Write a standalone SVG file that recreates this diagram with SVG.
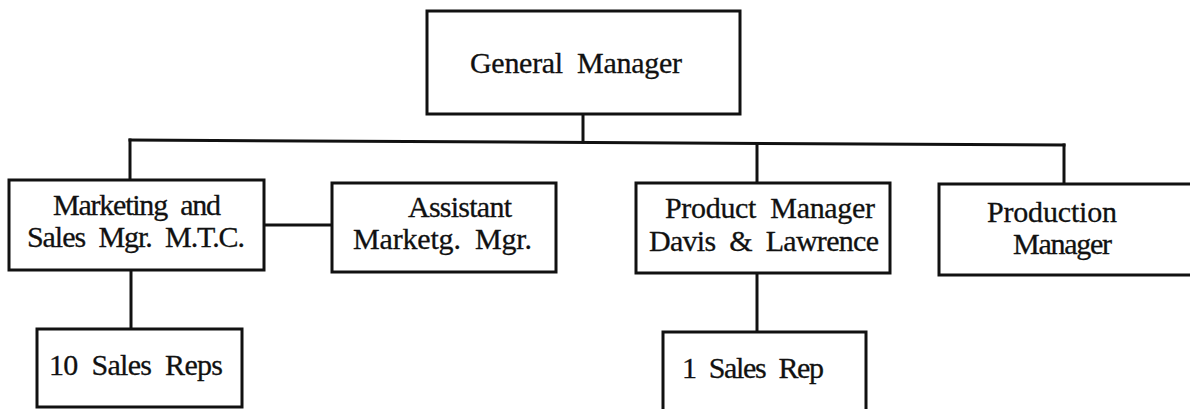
<svg xmlns="http://www.w3.org/2000/svg" width="1190" height="409" viewBox="0 0 1190 409">
  <style>
    .box { fill: #ffffff; stroke: #111111; stroke-width: 3; }
    .conn { fill: none; stroke: #111111; stroke-width: 3; stroke-linecap: square; }
    .lbl { font-family: "Liberation Serif", "Times New Roman", serif; font-size: 30px; fill: #111111; stroke: #111111; stroke-width: 0.3; word-spacing: 7px; }
  </style>
  <rect x="0" y="0" width="1190" height="409" fill="#ffffff"/>
  <g id="connectors">
    <line class="conn" x1="583" y1="114" x2="583" y2="142"/>
    <line class="conn" x1="130" y1="140" x2="1064" y2="145"/>
    <line class="conn" x1="130" y1="140" x2="130" y2="180"/>
    <line class="conn" x1="757" y1="144" x2="757" y2="183"/>
    <line class="conn" x1="1064" y1="145" x2="1064" y2="184"/>
    <line class="conn" x1="264" y1="225" x2="332" y2="225"/>
    <line class="conn" x1="131" y1="270" x2="131" y2="329"/>
    <line class="conn" x1="757" y1="273" x2="757" y2="332"/>
  </g>
  <g id="general-manager">
    <rect class="box" x="427" y="11" width="313" height="103"/>
    <text class="lbl" x="470" y="73" textLength="212" lengthAdjust="spacing">General Manager</text>
  </g>
  <g id="marketing-sales">
    <rect class="box" x="9" y="180" width="255" height="90"/>
    <text class="lbl" x="53" y="215" textLength="168" lengthAdjust="spacing">Marketing and</text>
    <text class="lbl" x="27" y="247" textLength="218" lengthAdjust="spacing">Sales Mgr. M.T.C.</text>
  </g>
  <g id="assistant-marketing">
    <rect class="box" x="332" y="183" width="224" height="89"/>
    <text class="lbl" x="408" y="217" textLength="104" lengthAdjust="spacing">Assistant</text>
    <text class="lbl" x="353" y="249" textLength="179" lengthAdjust="spacing">Marketg. Mgr.</text>
  </g>
  <g id="product-manager">
    <rect class="box" x="636" y="183" width="254" height="90"/>
    <text class="lbl" x="665" y="218" textLength="210" lengthAdjust="spacing">Product Manager</text>
    <text class="lbl" x="649" y="251" textLength="230" lengthAdjust="spacing">Davis &amp; Lawrence</text>
  </g>
  <g id="production-manager">
    <rect class="box" x="939" y="184" width="260" height="91"/>
    <text class="lbl" x="987" y="222" textLength="130" lengthAdjust="spacing">Production</text>
    <text class="lbl" x="1013" y="254" textLength="99" lengthAdjust="spacing">Manager</text>
  </g>
  <g id="sales-reps-10">
    <rect class="box" x="37" y="329" width="205" height="78"/>
    <text class="lbl" x="49" y="375" textLength="174" lengthAdjust="spacing">10 Sales Reps</text>
  </g>
  <g id="sales-rep-1">
    <rect class="box" x="663" y="332" width="203" height="90"/>
    <text class="lbl" x="682" y="378" textLength="142" lengthAdjust="spacing">1 Sales Rep</text>
  </g>
</svg>
